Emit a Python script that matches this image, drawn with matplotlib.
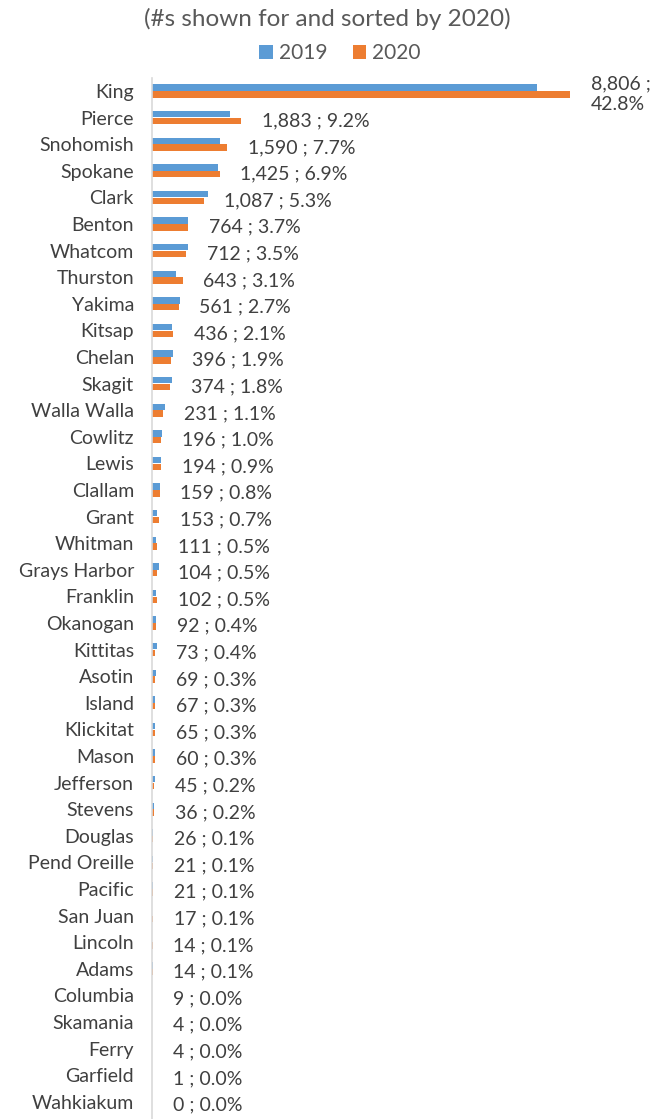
import numpy as np
import matplotlib
matplotlib.use('Agg')
import matplotlib.pyplot as plt

plt.rcParams['font.family'] = ['Lato', 'DejaVu Sans']

# county data, sorted by 2020
counties = ['King', 'Pierce', 'Snohomish', 'Spokane', 'Clark', 'Benton', 'Whatcom',
            'Thurston', 'Yakima', 'Kitsap', 'Chelan', 'Skagit', 'Walla Walla', 'Cowlitz',
            'Lewis', 'Clallam', 'Grant', 'Whitman', 'Grays Harbor', 'Franklin', 'Okanogan',
            'Kittitas', 'Asotin', 'Island', 'Klickitat', 'Mason', 'Jefferson', 'Stevens',
            'Douglas', 'Pend Oreille', 'Pacific', 'San Juan', 'Lincoln', 'Adams', 'Columbia',
            'Skamania', 'Ferry', 'Garfield', 'Wahkiakum']
vals_2020 = [8806, 1883, 1590, 1425, 1087, 764, 712, 643, 561, 436, 396, 374, 231, 196,
             194, 159, 153, 111, 104, 102, 92, 73, 69, 67, 65, 60, 45, 36, 26, 21, 21, 17,
             14, 14, 9, 4, 4, 1, 0]
vals_2019 = [8100, 1650, 1440, 1380, 1190, 757, 763, 513, 597, 414, 448, 419, 277, 211,
             194, 175, 100, 94, 156, 77, 74, 115, 75, 70, 70, 60, 55, 45, 20, 20, 25, 10,
             10, 15, 5, 5, 3, 1, 1]

c19 = '#5B9BD5'
c20 = '#ED7D31'
txt = '#404040'

W, H = 651, 1119
fig = plt.figure(figsize=(W / 100, H / 100), dpi=100)

# axes placement in pixels
ax_left, ax_top, spacing = 152, 77.7, 26.6
ax_h = H - ax_top
ax = fig.add_axes([ax_left / W, 0, (W - ax_left) / W, ax_h / H])

y = np.arange(len(counties))
bh = 0.24
ax.barh(y - 0.125, vals_2019, height=bh, color=c19, label='2019')
ax.barh(y + 0.125, vals_2020, height=bh, color=c20, label='2020')

px_per_unit = 0.04747
ax.set_xlim(0, (W - ax_left) / px_per_unit)
ax.set_ylim(-0.5 + ax_h / spacing, -0.5)

total = sum(vals_2020)
for i, v in enumerate(vals_2020):
    lab = f'{v:,} ; {v / total * 100:.1f}%'
    if v > 5000:
        lab = lab.replace(' ; ', ' ;\n')
    ax.annotate(lab, (v, i + 0.125), xytext=(15, 0), textcoords='offset points',
                va='center', ha='left', fontsize=14, color=txt, linespacing=1.25)

ax.set_yticks(y)
ax.set_yticklabels(counties, fontsize=14, color=txt)
ax.tick_params(axis='y', length=0, pad=13)
ax.set_xticks([])
for s in ['top', 'right', 'bottom']:
    ax.spines[s].set_visible(False)
ax.spines['left'].set_color('#D9D9D9')
ax.spines['left'].set_linewidth(1.2)

fig.text(327 / W, 1 - 19 / H, '(#s shown for and sorted by 2020)', ha='center', va='center',
         fontsize=17.5, color='#595959')
fig.legend(loc='center', bbox_to_anchor=(340 / W, 1 - 53 / H), ncol=2, frameon=False,
           fontsize=15, handlelength=0.65, handleheight=0.65, handletextpad=0.3,
           columnspacing=1.2, labelcolor='#595959')

fig.savefig('out.png', dpi=100)
